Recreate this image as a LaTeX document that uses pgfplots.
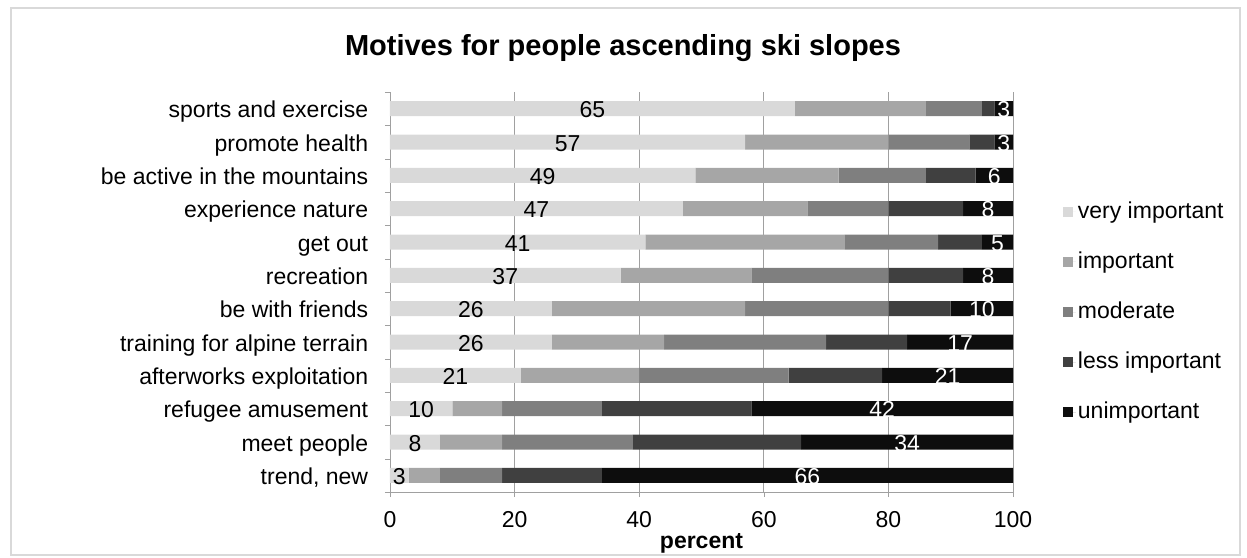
\documentclass[border=0pt]{standalone}
\usepackage{fontspec}
\setmainfont{Liberation Sans}
\usepackage{pgfplots}
\usepackage{pgfplotstable}
\pgfplotsset{compat=1.18}

\definecolor{vimp}{HTML}{D9D9D9}
\definecolor{imp}{HTML}{A6A6A6}
\definecolor{mod}{HTML}{7F7F7F}
\definecolor{less}{HTML}{404040}
\definecolor{unimp}{HTML}{0D0D0D}
\definecolor{gridc}{HTML}{A0A0A0}

% percent of answers, rows top to bottom
\pgfplotstableread{
y  vi imp mod less unimp
1  65 21  9   2   3
2  57 23  13  4   3
3  49 23  14  8   6
4  47 20  13  12  8
5  41 32  15  7   5
6  37 21  22  12  8
7  26 31  23  10  10
8  26 18  26  13  17
9  21 19  24  15  21
10 10 8   16  24  42
11 8  10  21  27  34
12 3  5   10  16  66
}\motives

\begin{document}
\fontsize{23}{27}\selectfont
\begin{tikzpicture}
\useasboundingbox (-390pt,-65pt) rectangle (857pt,492pt);
\draw[vimp, line width=1.5pt] (-379pt,-63pt) rectangle (850pt,484pt);
\node[font=\bfseries\fontsize{29}{33}\selectfont] at (233pt,444pt) {Motives for people ascending ski slopes};

\begin{axis}[
  at={(0pt,0pt)}, anchor=south west,
  width=623pt, height=400pt, scale only axis,
  xbar stacked, bar width=15pt,
  xmin=0, xmax=100, ymin=0.5, ymax=12.5, y dir=reverse,
  axis x line*=bottom, axis y line*=left,
  axis line style={gridc},
  tick align=outside, major tick length=5pt,
  tick style={gridc},
  xtick={0,20,...,100},
  xmajorgrids, grid style={gridc, line width=0.8pt},
  /pgf/number format/assume math mode=true,
  xticklabel style={yshift=-7pt},
  xlabel={\textbf{percent}},
  xlabel style={yshift=10pt},
  ytick={0.5,1.5,...,12.5}, yticklabels={},
  extra y ticks={1,...,12},
  extra y tick labels={sports and exercise, promote health, be active in the mountains, experience nature, get out, recreation, be with friends, training for alpine terrain, afterworks exploitation, refugee amusement, meet people, {trend, new}},
  extra y tick style={tick style={draw=none}, tick label style={xshift=-9pt, yshift=-3pt, text height=17pt, text depth=5pt}},
  legend style={at={(1.075,0.45)}, anchor=west, draw=none, fill=none, row sep=26pt},
  legend cell align=left,
  legend image code/.code={\fill[#1] (0pt,-5pt) rectangle (10pt,5pt); \path (0pt,0pt) -- (13pt,0pt);},
]
\addplot[fill=vimp, draw=none] table[x=vi, y=y] {\motives};
\addplot[fill=imp, draw=none] table[x=imp, y=y] {\motives};
\addplot[fill=mod, draw=none] table[x=mod, y=y] {\motives};
\addplot[fill=less, draw=none] table[x=less, y=y] {\motives};
\addplot[fill=unimp, draw=none] table[x=unimp, y=y] {\motives};
\legend{very important, important, moderate, less important, unimportant}
\end{axis}

\begin{axis}[
  at={(0pt,0pt)}, anchor=south west,
  width=623pt, height=400pt, scale only axis,
  xmin=0, xmax=100, ymin=0.5, ymax=12.5, y dir=reverse,
  hide axis,
  nodes near coords, point meta=explicit symbolic,
  every node near coord/.append style={anchor=center, inner sep=0pt, text height=17pt, text depth=5pt, yshift=-3pt},
]
\addplot[draw=none, mark=none, every node near coord/.append style={text=black}]
  table[x expr=\thisrow{vi}/2, y=y, meta=vi] {\motives};
\addplot[draw=none, mark=none, every node near coord/.append style={text=white}]
  table[x expr=100-\thisrow{unimp}/2, y=y, meta=unimp] {\motives};
\end{axis}
\end{tikzpicture}
\end{document}
